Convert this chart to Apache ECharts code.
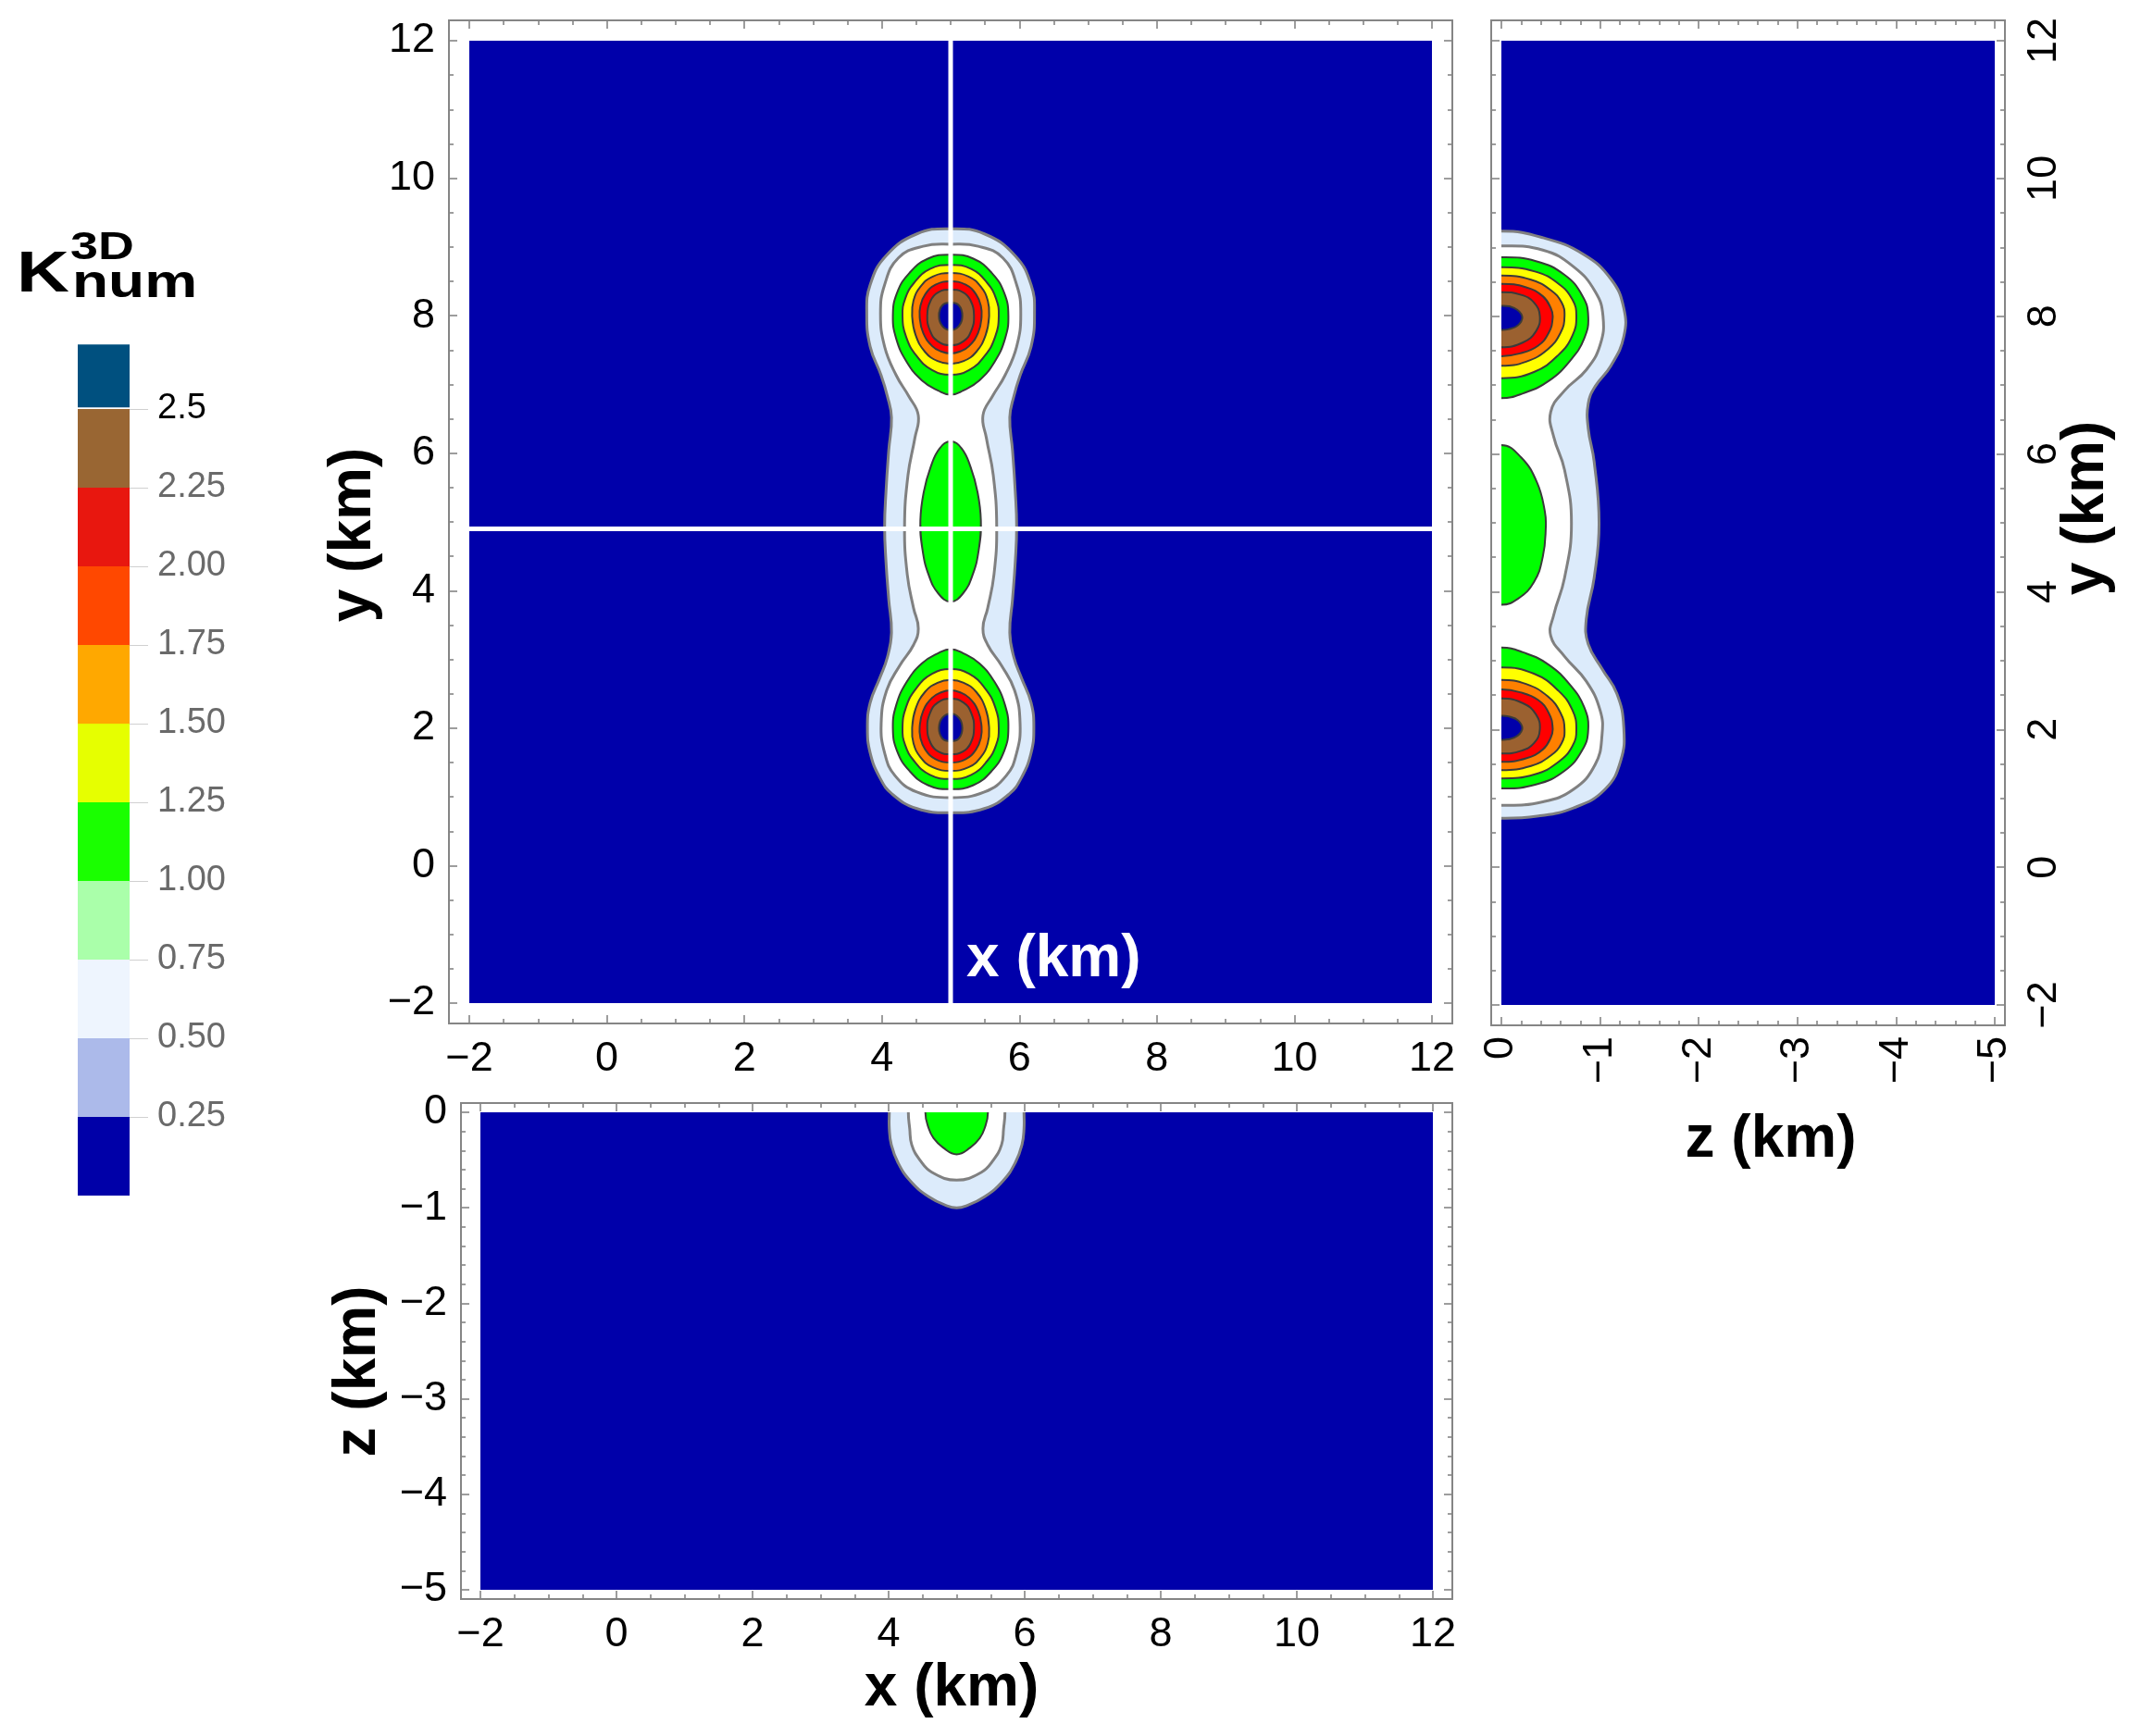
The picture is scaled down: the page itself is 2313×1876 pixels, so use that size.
<!DOCTYPE html>
<html>
<head>
<meta charset="utf-8">
<title>K3D num sections</title>
<script src="https://cdn.jsdelivr.net/npm/echarts@6.0.0/dist/echarts.min.js"></script>
<style>
html, body { margin: 0; padding: 0; background: #ffffff; }
#chart { width: 2313px; height: 1876px; }
</style>
</head>
<body>
<div id="chart"></div>
<script>
var FONT = 'Liberation Sans, Arial, sans-serif';

// axis ranges (km) and tick steps
var x_range = [-2, 12];
var y_range = [-2, 12];
var z_range = [-5, 0];
var x_step = 2, y_step = 2, z_step = 1;

// white section lines in the x-y map
var cut_x = 5;
var cut_y = 4.9;
// the two lobes are mirror images about this y
var lobe_axis = 5;

// x-y map (z=0): right half of each contour, read from top to bottom, mirrored about x=5
var xy_outer = [[5,9.265],[5.49,9.19],[5.94,8.87],[6.17,8.45],[6.22,8.03],[6.17,7.55],[6.01,7.13],[5.92,6.83],[5.86,6.52],[5.90,6.04],[5.94,5.44],[5.96,4.93],[5.94,4.42],[5.90,3.87],[5.86,3.39],[5.92,3.03],[6.03,2.73],[6.17,2.37],[6.21,2.01],[6.17,1.64],[6.03,1.28],[5.85,1.04],[5.49,0.83],[5,0.77]];
var xy_inner = [[5,9.04],[5.40,9.01],[5.76,8.84],[5.96,8.45],[6.02,8.03],[5.96,7.55],[5.79,7.13],[5.61,6.83],[5.47,6.55],[5.52,6.22],[5.62,5.68],[5.67,4.93],[5.63,4.23],[5.54,3.75],[5.47,3.45],[5.54,3.21],[5.74,2.91],[5.93,2.55],[6.01,2.07],[5.96,1.64],[5.81,1.31],[5.49,1.07],[5,0.99]];
var xy_mid = [[5,6.17],[5.16,6.07],[5.29,5.80],[5.39,5.44],[5.44,5.02],[5.41,4.60],[5.32,4.23],[5.18,3.96],[5,3.84]];
// upper lobe rings (1.00, 1.25, 1.50, 1.75, 2.00 and the core)
var xy_green = [[5,8.886],[5.33,8.83],[5.60,8.62],[5.78,8.33],[5.84,8.0],[5.79,7.66],[5.64,7.33],[5.42,7.06],[5.18,6.91],[5,6.85]];
var xy_yellow = [[5,8.74],[5.30,8.68],[5.53,8.48],[5.66,8.25],[5.70,8.0],[5.65,7.70],[5.50,7.42],[5.27,7.21],[5,7.14]];
var xy_orange = [[5,8.62],[5.26,8.57],[5.44,8.42],[5.54,8.22],[5.56,8.0],[5.51,7.72],[5.37,7.47],[5.19,7.34],[5,7.30]];
var xy_red = [[5,8.50],[5.22,8.45],[5.37,8.31],[5.44,8.14],[5.45,7.98],[5.40,7.75],[5.27,7.56],[5.14,7.48],[5,7.45]];
var xy_brown = [[5,8.38],[5.18,8.34],[5.29,8.22],[5.34,8.0],[5.30,7.78],[5.19,7.63],[5,7.57]];
var xy_core = [[5,8.19],[5.12,8.15],[5.17,8.0],[5.12,7.85],[5,7.79]];

// y-z map (x=5): contours leaving the z=0 edge, [z, y]
var yz_outer = [[0,9.235],[-0.42,9.14],[-0.83,8.90],[-1.11,8.54],[-1.24,8.12],[-1.24,7.70],[-1.11,7.28],[-0.95,6.98],[-0.88,6.73],[-0.88,6.37],[-0.94,5.89],[-0.99,4.99],[-0.94,4.20],[-0.86,3.60],[-0.88,3.24],[-1.02,2.88],[-1.17,2.52],[-1.24,2.04],[-1.21,1.55],[-1.05,1.13],[-0.73,0.86],[-0.36,0.74],[0,0.71]];
var yz_inner = [[0,9.02],[-0.42,8.96],[-0.73,8.72],[-0.95,8.36],[-1.03,8.0],[-1.00,7.58],[-0.86,7.22],[-0.64,6.92],[-0.50,6.61],[-0.53,6.25],[-0.64,5.77],[-0.71,4.99],[-0.64,4.20],[-0.53,3.66],[-0.50,3.36],[-0.64,3.06],[-0.86,2.70],[-1.00,2.28],[-1.02,1.92],[-0.95,1.49],[-0.73,1.13],[-0.42,0.95],[0,0.90]];
var yz_mid = [[0,6.13],[-0.2,5.95],[-0.36,5.59],[-0.44,5.17],[-0.45,4.93],[-0.42,4.51],[-0.33,4.14],[-0.17,3.90],[0,3.81]];
var yz_green = [[0,8.855],[-0.35,8.80],[-0.64,8.60],[-0.82,8.30],[-0.88,8.0],[-0.84,7.68],[-0.70,7.36],[-0.48,7.06],[-0.22,6.88],[0,6.81]];
var yz_yellow = [[0,8.71],[-0.34,8.65],[-0.58,8.47],[-0.72,8.24],[-0.76,8.0],[-0.72,7.72],[-0.58,7.44],[-0.33,7.19],[0,7.10]];
var yz_orange = [[0,8.59],[-0.30,8.53],[-0.50,8.38],[-0.61,8.2],[-0.64,8.0],[-0.60,7.76],[-0.47,7.52],[-0.25,7.34],[0,7.28]];
var yz_red = [[0,8.47],[-0.25,8.42],[-0.42,8.29],[-0.50,8.12],[-0.52,7.98],[-0.48,7.76],[-0.37,7.57],[-0.19,7.46],[0,7.42]];
var yz_brown = [[0,8.35],[-0.20,8.31],[-0.33,8.2],[-0.39,8.0],[-0.35,7.78],[-0.22,7.62],[0,7.55]];
var yz_core = [[0,8.15],[-0.13,8.12],[-0.21,8.0],[-0.17,7.87],[-0.07,7.81],[0,7.80]];

// x-z map (y=4.9): quarter of each contour, from the bottom point up to the z=0 edge
var xz_outer = [[5,-1.0],[5.14,-0.98],[5.41,-0.885],[5.68,-0.72],[5.86,-0.53],[5.96,-0.34],[5.99,-0.17],[5.99,0]];
var xz_inner = [[5,-0.71],[5.36,-0.63],[5.54,-0.50],[5.66,-0.34],[5.69,-0.17],[5.71,0]];
var xz_mid = [[5,-0.44],[5.20,-0.37],[5.34,-0.27],[5.41,-0.17],[5.46,0]];

// colour bar
var bar_levels = [0, 0.25, 0.5, 0.75, 1.0, 1.25, 1.5, 1.75, 2.0, 2.25, 2.5];
var bar_colors = ['#0000A8', '#ACBAEA', '#EEF5FE', '#AAFFAA', '#1AFF00', '#E6FF00', '#FFA800', '#FF4800', '#E8170F', '#996633'];
var bar_top = [2.505, 2.705];
var bar_top_color = '#00507F';
var bar_ticks = [0.25, 0.5, 0.75, 1.0, 1.25, 1.5, 1.75, 2.0, 2.25, 2.5];

// colours used in the maps
var c_bg = '#0000AA';
var c_band = '#DCEBFB';
var c_white = '#FFFFFF';
var c_gray = '#808080';
var c_dark = '#3A3A3A';
var ring_colors = ['#00FF00', '#FFFF00', '#FF8000', '#FF0000', '#9B6130', c_bg];

// panel boxes (data area) and distance to the frame
var main_box = {left: 507, top: 44, width: 1040, height: 1040, padX: 22, padY: 22};
var side_box = {left: 1622, top: 44, width: 533, height: 1042, padX: 11, padY: 22};
var xz_box = {left: 519, top: 1202, width: 1029, height: 516, padX: 21, padY: 10};
var bar_box = {left: 84, top: 357, width: 56, height: 935};

function rect_pts(r1, r2) {
    return [[r1[0], r2[0]], [r1[1], r2[0]], [r1[1], r2[1]], [r1[0], r2[1]]];
}
// close a half contour by its mirror image (k = 0 mirrors the first coordinate)
function close_about(half, k, c) {
    var loop = half.slice();
    for (var i = half.length - 2; i > 0; i--) {
        var p = half[i].slice();
        p[k] = 2 * c - p[k];
        loop.push(p);
    }
    return loop;
}
// extend a quarter into a half (keeps both end points)
function extend_about(part, k, c) {
    var out = part.slice();
    for (var i = part.length - 2; i >= 0; i--) {
        var p = part[i].slice();
        p[k] = 2 * c - p[k];
        out.push(p);
    }
    return out;
}
function flip(pts, k, c) {
    return pts.map(function (p) {
        var q = p.slice();
        q[k] = 2 * c - q[k];
        return q;
    });
}
function layer(pts, fill, stroke, width, smooth) {
    return {pts: pts, fill: fill, stroke: stroke || null, width: width || 0, smooth: smooth == null ? 0.45 : smooth};
}

// x-y layers
var main_layers = [
    layer(rect_pts(x_range, y_range), c_bg, null, 0, 0),
    layer(close_about(xy_outer, 0, cut_x), c_band, c_gray, 3),
    layer(close_about(xy_inner, 0, cut_x), c_white, c_gray, 3),
    layer(close_about(xy_mid, 0, cut_x), ring_colors[0], c_dark, 2)
];
var xy_rings = [xy_green, xy_yellow, xy_orange, xy_red, xy_brown, xy_core];
[false, true].forEach(function (lower) {
    xy_rings.forEach(function (ring, i) {
        var pts = close_about(ring, 0, cut_x);
        if (lower) pts = flip(pts, 1, lobe_axis);
        main_layers.push(layer(pts, ring_colors[i], c_dark, 2));
    });
});

// y-z layers (mirror about z=0 then clip at the edge)
var side_layers = [
    layer(rect_pts(z_range, y_range), c_bg, null, 0, 0),
    layer(close_about(yz_outer, 0, 0), c_band, c_gray, 3),
    layer(close_about(yz_inner, 0, 0), c_white, c_gray, 3),
    layer(close_about(yz_mid, 0, 0), ring_colors[0], c_dark, 2)
];
var yz_rings = [yz_green, yz_yellow, yz_orange, yz_red, yz_brown, yz_core];
[false, true].forEach(function (lower) {
    yz_rings.forEach(function (ring, i) {
        var pts = close_about(ring, 0, 0);
        if (lower) pts = flip(pts, 1, lobe_axis);
        side_layers.push(layer(pts, ring_colors[i], c_dark, 2));
    });
});

// x-z layers
var xz_layers = [
    layer(rect_pts(x_range, z_range), c_bg, null, 0, 0),
    layer(close_about(extend_about(xz_outer, 1, 0), 0, cut_x), c_band, c_gray, 3),
    layer(close_about(extend_about(xz_inner, 1, 0), 0, cut_x), c_white, c_gray, 3),
    layer(close_about(extend_about(xz_mid, 1, 0), 0, cut_x), ring_colors[0], c_dark, 2)
];

function contour_item(layers) {
    return function (params, api) {
        var ly = layers[params.dataIndex];
        var pts = ly.pts.map(function (p) { return api.coord(p); });
        var cs = params.coordSys;
        return {
            type: 'group',
            clipPath: {type: 'rect', shape: {x: cs.x, y: cs.y, width: cs.width, height: cs.height}},
            children: [{
                type: 'polygon',
                shape: {points: pts, smooth: ly.smooth},
                style: {fill: ly.fill, stroke: ly.stroke, lineWidth: ly.width, lineJoin: 'round'}
            }]
        };
    };
}

function contour_series(layers, ai) {
    return {
        type: 'custom',
        xAxisIndex: ai,
        yAxisIndex: ai,
        silent: true,
        animation: false,
        renderItem: contour_item(layers),
        data: layers.map(function (l) { return l.pts[0]; })
    };
}

function tick_fmt(v) {
    return String(v).replace('-', '\u2212');
}

function value_axis(gi, pos, range, step, minor, offset, label) {
    var ax = {
        type: 'value',
        gridIndex: gi,
        position: pos,
        min: range[0],
        max: range[1],
        interval: step,
        offset: offset,
        axisLine: {show: false, onZero: false},
        splitLine: {show: false},
        axisTick: {show: true, inside: true, length: 9, lineStyle: {color: '#858585', width: 1.6}},
        minorTick: {show: true, splitNumber: minor, length: 5, lineStyle: {color: '#858585', width: 1.6}},
        minorSplitLine: {show: false},
        axisLabel: {show: false}
    };
    if (label) {
        ax.axisLabel = {show: true, formatter: tick_fmt, color: '#000', fontSize: 45, fontFamily: FONT};
        for (var k in label) ax.axisLabel[k] = label[k];
    }
    return ax;
}

function grid_of(b) {
    return {left: b.left, top: b.top, width: b.width, height: b.height, outerBoundsMode: 'none', containLabel: false};
}

var x_axes = [
    value_axis(0, 'bottom', x_range, x_step, 4, main_box.padY, {margin: 16}),
    value_axis(0, 'top', x_range, x_step, 4, main_box.padY, null),
    value_axis(1, 'bottom', z_range, z_step, 5, side_box.padY, {margin: 12, rotate: 90}),
    value_axis(1, 'top', z_range, z_step, 5, side_box.padY, null),
    value_axis(2, 'bottom', x_range, x_step, 4, xz_box.padY, {margin: 16}),
    value_axis(2, 'top', x_range, x_step, 4, xz_box.padY, null),
    {type: 'value', gridIndex: 3, min: 0, max: 1, show: false}
];
x_axes[2].inverse = true;
x_axes[3].inverse = true;

var y_axes = [
    value_axis(0, 'left', y_range, y_step, 4, main_box.padX, {margin: 15}),
    value_axis(0, 'right', y_range, y_step, 4, main_box.padX, null),
    value_axis(1, 'left', y_range, y_step, 4, side_box.padX, null),
    value_axis(1, 'right', y_range, y_step, 4, side_box.padX, {margin: 20, rotate: 90}),
    value_axis(2, 'left', z_range, z_step, 5, xz_box.padX, {margin: 15}),
    value_axis(2, 'right', z_range, z_step, 5, xz_box.padX, null),
    {
        type: 'value', gridIndex: 3, position: 'right', min: 0, max: 2.75,
        axisLine: {show: false, onZero: false},
        splitLine: {show: false},
        axisTick: {show: true, length: 20, customValues: bar_ticks, lineStyle: {color: '#d0d0d0', width: 1}},
        axisLabel: {
            show: true, margin: 30, fontSize: 38, fontFamily: FONT, customValues: bar_ticks,
            formatter: function (v) { return v === 2.5 ? '2.5' : v.toFixed(2); },
            color: function (v) { return Number(v) === 2.5 ? '#000000' : '#6a6a6a'; }
        }
    }
];

function frame_rect(b) {
    return {
        type: 'rect',
        silent: true,
        z: 10,
        shape: {x: b.left - b.padX, y: b.top - b.padY, width: b.width + 2 * b.padX, height: b.height + 2 * b.padY},
        style: {fill: null, stroke: '#858585', lineWidth: 2}
    };
}

function title_text(text, x, y, rot, color, align) {
    return {
        type: 'text',
        silent: true,
        z: 100,
        x: x,
        y: y,
        rotation: rot || 0,
        style: {
            text: text,
            fill: color || '#000',
            fontSize: 64,
            fontWeight: 'bold',
            fontFamily: FONT,
            align: align || 'center',
            verticalAlign: 'middle'
        }
    };
}

var chart = echarts.init(document.getElementById('chart'));
var option = {
    backgroundColor: '#ffffff',
    animation: false,
    grid: [grid_of(main_box), grid_of(side_box), grid_of(xz_box), grid_of(bar_box)],
    xAxis: x_axes,
    yAxis: y_axes,
    series: [
        contour_series(main_layers, 0),
        contour_series(side_layers, 2),
        contour_series(xz_layers, 4),
        {
            // white section lines
            type: 'custom',
            xAxisIndex: 0,
            yAxisIndex: 0,
            silent: true,
            animation: false,
            z: 5,
            renderItem: function (params, api) {
                var top = api.coord([cut_x, y_range[1]]);
                var bot = api.coord([cut_x, y_range[0]]);
                var l = api.coord([x_range[0], cut_y]);
                var r = api.coord([x_range[1], cut_y]);
                return {
                    type: 'group',
                    children: [
                        {type: 'line', shape: {x1: top[0], y1: top[1], x2: bot[0], y2: bot[1] + main_box.padY}, style: {stroke: '#ffffff', lineWidth: 5}},
                        {type: 'line', shape: {x1: l[0], y1: l[1], x2: r[0], y2: r[1]}, style: {stroke: '#ffffff', lineWidth: 5}}
                    ]
                };
            },
            data: [[cut_x, cut_y]]
        },
        {
            // colour bar
            type: 'custom',
            xAxisIndex: 6,
            yAxisIndex: 6,
            silent: true,
            animation: false,
            renderItem: function (params, api) {
                var i = params.dataIndex;
                var lo, hi, color;
                if (i < bar_colors.length) {
                    lo = bar_levels[i]; hi = bar_levels[i + 1]; color = bar_colors[i];
                } else {
                    lo = bar_top[0]; hi = bar_top[1]; color = bar_top_color;
                }
                var p0 = api.coord([0, lo]);
                var p1 = api.coord([1, hi]);
                return {
                    type: 'rect',
                    shape: {x: p0[0], y: p1[1], width: p1[0] - p0[0], height: p0[1] - p1[1]},
                    style: {fill: color}
                };
            },
            data: bar_colors.map(function (c, i) { return [0.5, bar_levels[i]]; }).concat([[0.5, bar_top[0]]])
        }
    ],
    graphic: [
        frame_rect(main_box),
        frame_rect(side_box),
        frame_rect(xz_box),
        title_text('y (km)', 382, 578, Math.PI / 2),
        title_text('y (km)', 2254, 549, Math.PI / 2),
        title_text('z (km)', 387, 1482, Math.PI / 2),
        title_text('z (km)', 1913, 1232, 0),
        title_text('x (km)', 1028, 1825, 0),
        title_text('x (km)', 1044, 1037, 0, '#ffffff', 'left'),
        // colour bar title K^3D_num
        {type: 'text', silent: true, z: 100, x: 18, y: 298, scaleX: 1.25,
            style: {text: 'K', fontSize: 63, fontWeight: 'bold', fontFamily: FONT, fill: '#000', align: 'left', verticalAlign: 'middle'}},
        {type: 'text', silent: true, z: 100, x: 76, y: 268, scaleX: 1.28,
            style: {text: '3D', fontSize: 42, fontWeight: 'bold', fontFamily: FONT, fill: '#000', align: 'left', verticalAlign: 'middle'}},
        {type: 'text', silent: true, z: 100, x: 78, y: 307, scaleX: 1.28,
            style: {text: 'num', fontSize: 50, fontWeight: 'bold', fontFamily: FONT, fill: '#000', align: 'left', verticalAlign: 'middle'}}
    ]
};
chart.setOption(option);
</script>
</body>
</html>
